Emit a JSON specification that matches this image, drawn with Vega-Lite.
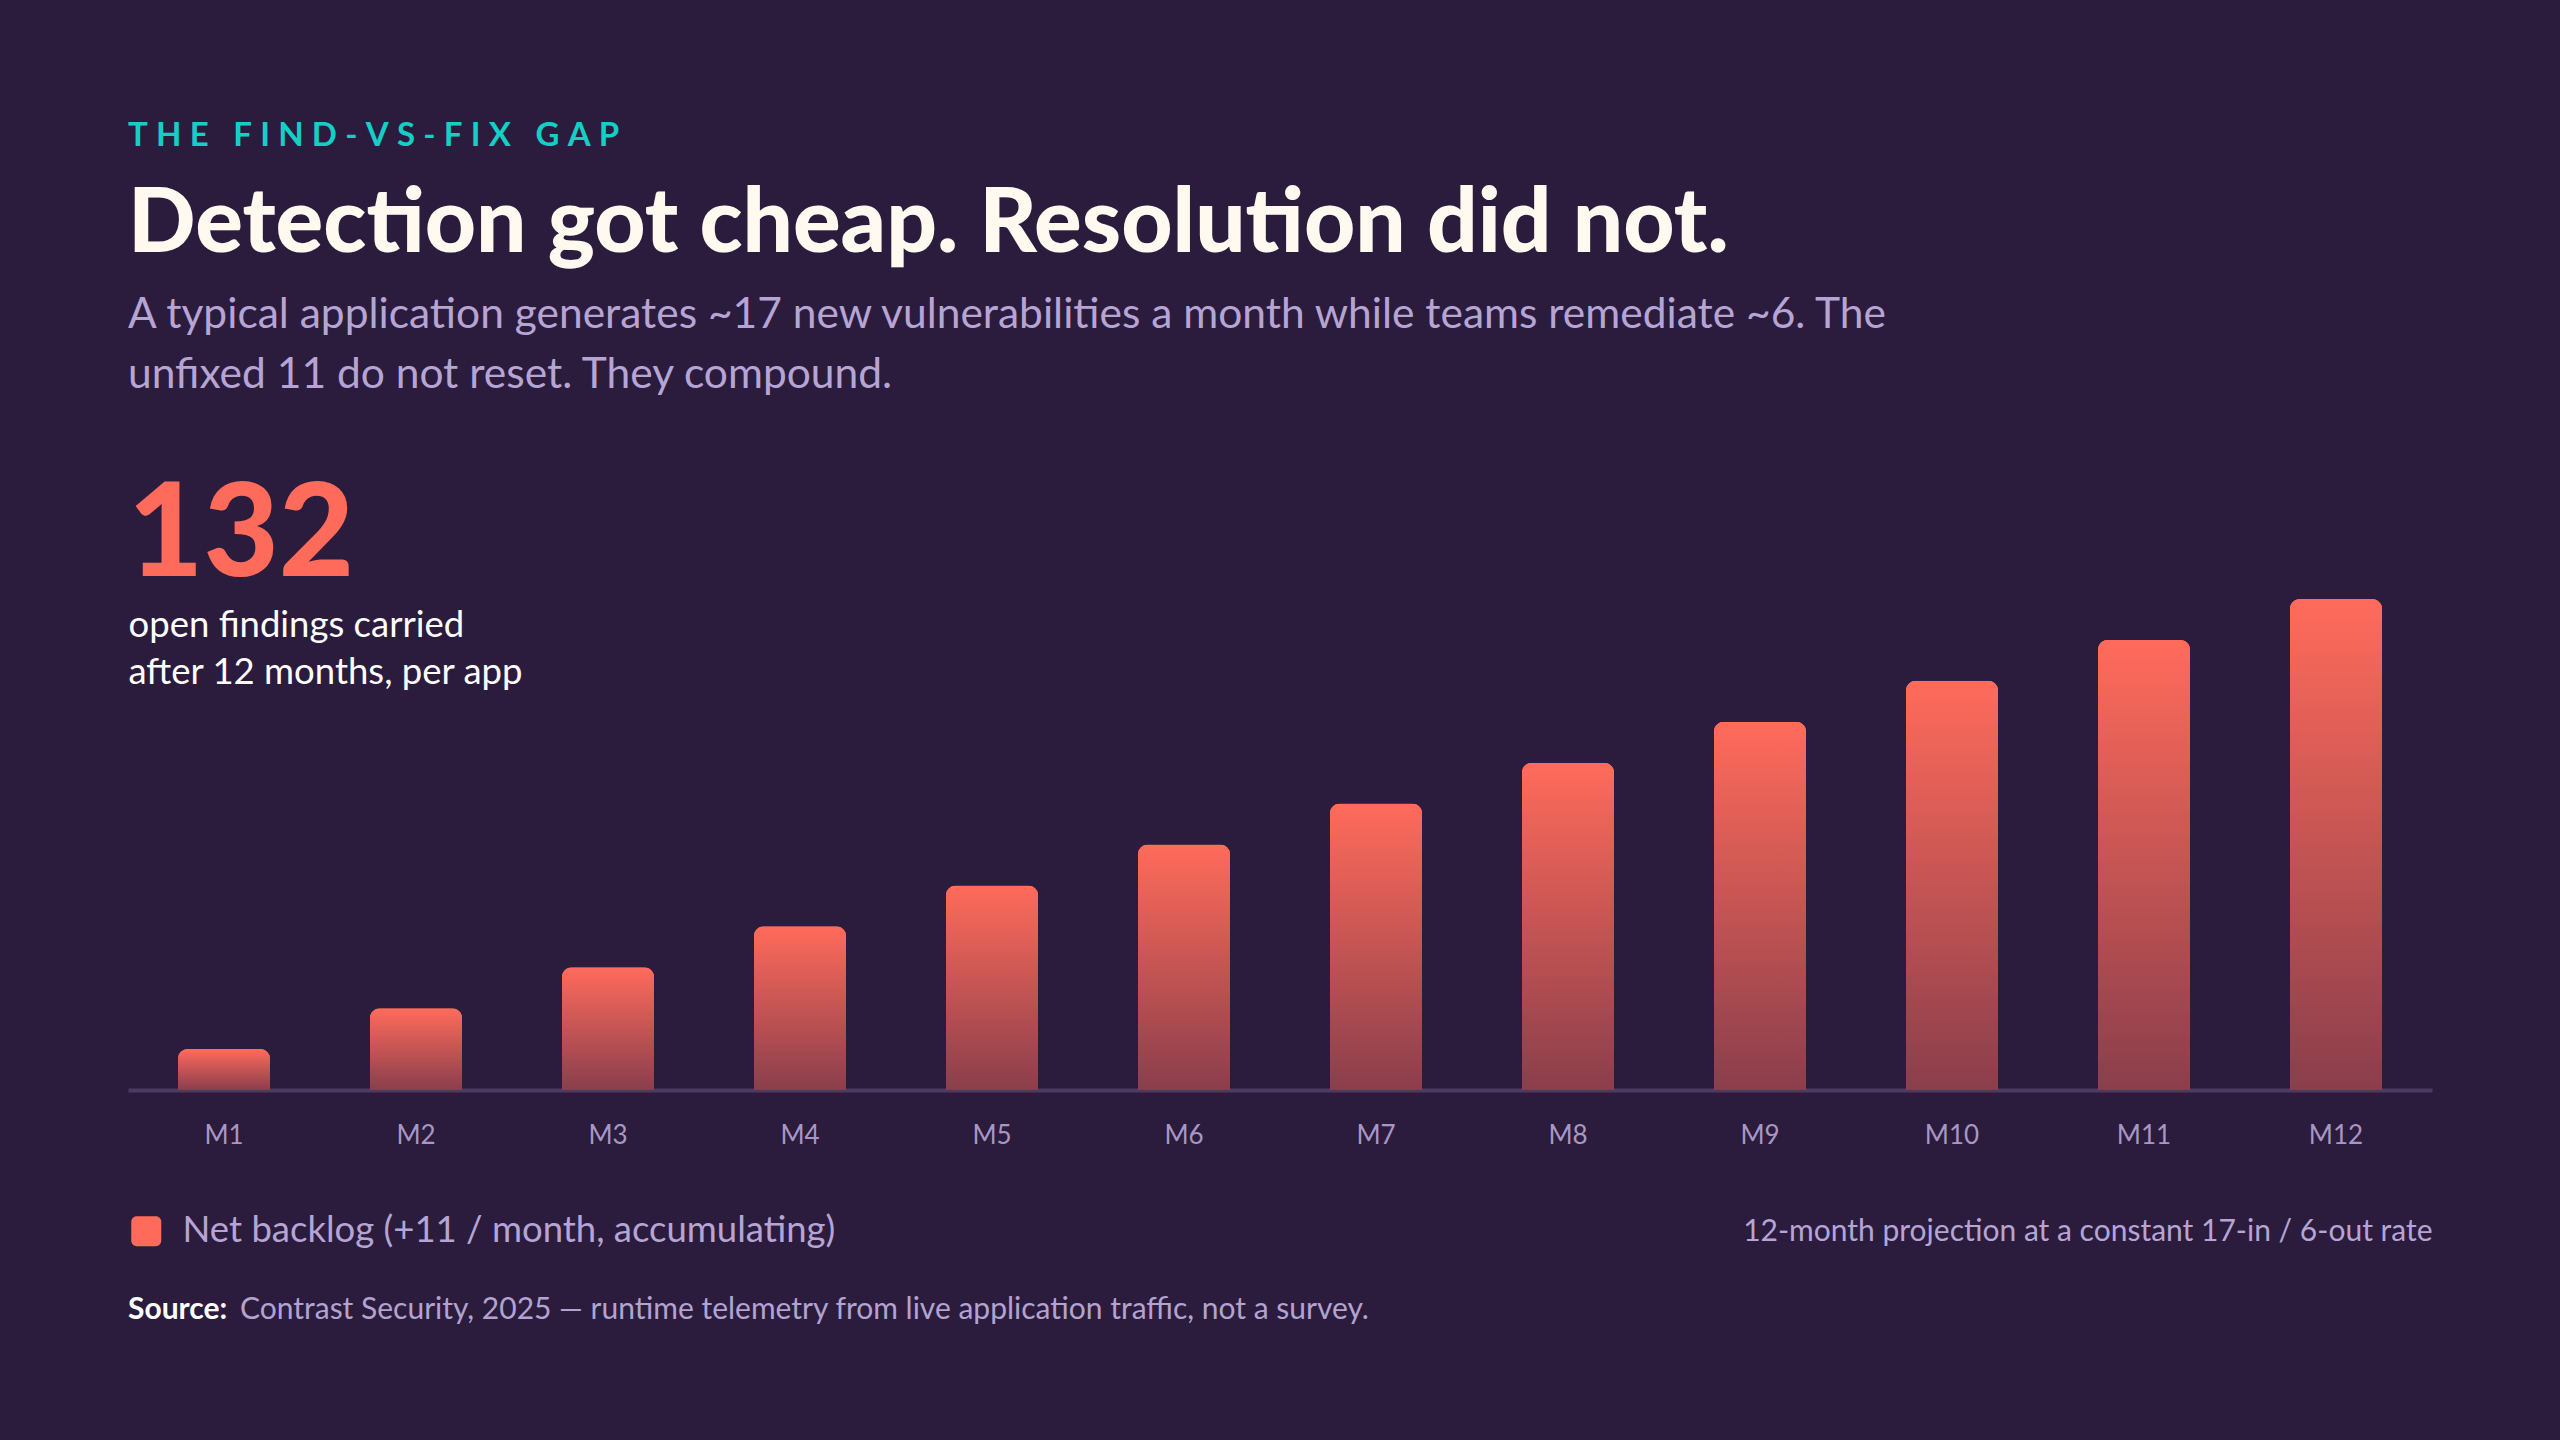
{
  "$schema": "https://vega.github.io/schema/vega-lite/v6.json",
  "background": "#2b1c3e",
  "padding": {"left": 128, "right": 128, "top": 119, "bottom": 132},
  "config": {
    "font": "Lato",
    "view": {"stroke": null},
    "concat": {"spacing": 0}
  },
  "title": {
    "text": "T\u2005H\u2005E\u2005 \u2005F\u2005I\u2005N\u2005D\u2005-\u2005V\u2005S\u2005-\u2005F\u2005I\u2005X\u2005 \u2005G\u2005A\u2005P",
    "subtitle": "Detection got cheap. Resolution did not.",
    "anchor": "start",
    "frame": "group",
    "font": "Lato",
    "fontSize": 33,
    "fontWeight": 700,
    "color": "#14cfc6",
    "subtitleFont": "Lato",
    "subtitleFontSize": 89,
    "subtitleFontWeight": 900,
    "subtitleColor": "#fff9ef",
    "subtitlePadding": 29,
    "offset": 24
  },
  "vconcat": [
    {
      "title": {
        "text": "Contrast Security, 2025 — runtime telemetry from live application traffic, not a survey.",
        "orient": "bottom",
        "anchor": "start",
        "frame": "group",
        "font": "Lato",
        "fontSize": 30,
        "fontWeight": 400,
        "color": "#b3a3d0",
        "dx": 112,
        "dy": -30,
        "offset": 0
      },
      "vconcat": [
        {
          "title": {
            "text": "Source:",
            "orient": "bottom",
            "anchor": "start",
            "frame": "group",
            "font": "Lato",
            "fontSize": 30,
            "fontWeight": 700,
            "color": "#ffffff",
            "offset": 49
          },
          "vconcat": [
            {
              "width": 2304,
              "height": 491,
              "title": {
                "text": [
                  "A typical application generates ~17 new vulnerabilities a month while teams remediate ~6. The",
                  "unfixed 11 do not reset. They compound."
                ],
                "subtitle": "132",
                "anchor": "start",
                "frame": "group",
                "font": "Lato",
                "fontSize": 42.5,
                "fontWeight": 400,
                "color": "#b6a5d4",
                "lineHeight": 60,
                "subtitleFont": "Lato",
                "subtitleFontSize": 130,
                "subtitleFontWeight": 900,
                "subtitleColor": "#ff6b5b",
                "subtitlePadding": 77,
                "offset": -3
              },
              "data": {
                "values": [
                  {"month": "M1", "backlog": 11},
                  {"month": "M2", "backlog": 22},
                  {"month": "M3", "backlog": 33},
                  {"month": "M4", "backlog": 44},
                  {"month": "M5", "backlog": 55},
                  {"month": "M6", "backlog": 66},
                  {"month": "M7", "backlog": 77},
                  {"month": "M8", "backlog": 88},
                  {"month": "M9", "backlog": 99},
                  {"month": "M10", "backlog": 110},
                  {"month": "M11", "backlog": 121},
                  {"month": "M12", "backlog": 132}
                ]
              },
              "encoding": {
                "x": {
                  "field": "month",
                  "type": "ordinal",
                  "sort": null,
                  "scale": {"paddingInner": 0.52, "paddingOuter": 0.26},
                  "axis": {
                    "title": "12-month projection at a constant 17-in / 6-out rate",
                    "titleAnchor": "end",
                    "titleAlign": "right",
                    "titleFont": "Lato",
                    "titleFontSize": 30,
                    "titleFontWeight": 400,
                    "titleColor": "#b6a5d4",
                    "titlePadding": 68,
                    "labelAngle": 0,
                    "labelFont": "Lato",
                    "labelFontSize": 26,
                    "labelColor": "#a797c4",
                    "labelPadding": 32,
                    "ticks": false,
                    "tickSize": 0,
                    "domainColor": "#4b3b61",
                    "domainWidth": 4,
                    "grid": false
                  }
                },
                "y": {
                  "field": "backlog",
                  "type": "quantitative",
                  "scale": {"domain": [0, 132], "nice": false},
                  "axis": {
                    "title": ["open findings carried", "after 12 months, per app"],
                    "labels": false,
                    "ticks": false,
                    "domain": false,
                    "grid": false,
                    "titleX": 0,
                    "titleY": 37,
                    "titleAngle": 0,
                    "titleAlign": "left",
                    "titleBaseline": "alphabetic",
                    "titleFont": "Lato",
                    "titleFontSize": 36.5,
                    "titleFontWeight": 400,
                    "titleColor": "#ffffff",
                    "titleLineHeight": 47,
                    "minExtent": 0,
                    "maxExtent": 0
                  }
                }
              },
              "layer": [
                {
                  "mark": {"type": "bar", "cornerRadiusTopLeft": 10, "cornerRadiusTopRight": 10},
                  "encoding": {
                    "fill": {
                      "datum": "Net backlog (+11 / month, accumulating)",
                      "type": "nominal",
                      "scale": {"range": ["#ff6b5b"]},
                      "legend": {
                        "title": null,
                        "orient": "none",
                        "legendX": 0,
                        "legendY": 614,
                        "padding": 0,
                        "symbolType": "M-0.64,-1H0.64A0.36,0.36,0,0,1,1,-0.64V0.64A0.36,0.36,0,0,1,0.64,1H-0.64A0.36,0.36,0,0,1,-1,0.64V-0.64A0.36,0.36,0,0,1,-0.64,-1Z",
                        "symbolSize": 900,
                        "symbolStrokeWidth": 0,
                        "labelFont": "Lato",
                        "labelFontSize": 36.5,
                        "labelColor": "#b6a5d4",
                        "labelOffset": 18,
                        "labelLimit": 0
                      }
                    }
                  }
                },
                {
                  "mark": {
                    "type": "bar",
                    "cornerRadiusTopLeft": 10,
                    "cornerRadiusTopRight": 10,
                    "fill": {
                      "gradient": "linear",
                      "x1": 0, "y1": 0, "x2": 0, "y2": 1,
                      "stops": [
                        {"offset": 0, "color": "#ff6b5b"},
                        {"offset": 1, "color": "#8a3e4c"}
                      ]
                    }
                  }
                }
              ]
            }
          ]
        }
      ]
    }
  ]
}
